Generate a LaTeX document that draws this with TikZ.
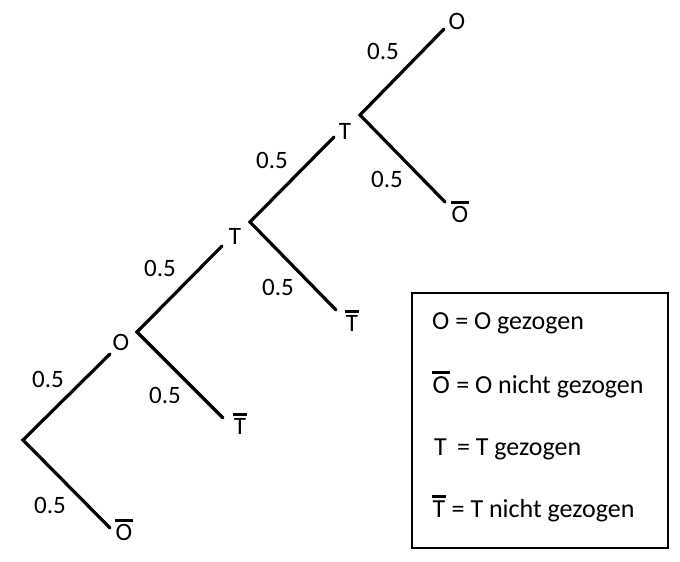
\documentclass[tikz,border=0pt]{standalone}
\usepackage{fontspec}
\setmainfont{Carlito}
\newcommand{\barred}[1]{\leavevmode\vbox{\hrule height 3pt\kern 2.4pt\hbox{\kern0.5pt#1\kern0.5pt}}}
\begin{document}
\begin{tikzpicture}[x=1pt,y=-1pt,
  branch/.style={line width=3.2pt,line cap=round},
  lbl/.style={font=\fontsize{25}{29}\selectfont,inner sep=0pt},
  prob/.style={font=\fontsize{25}{29}\selectfont,inner sep=0pt},
  leg/.style={font=\fontsize{26}{31}\selectfont,inner sep=0pt,anchor=base west}]
\useasboundingbox (0,0) rectangle (680,562);
% junctions / ends
\coordinate (r) at (23,440);
\coordinate (oj) at (137,332);
\coordinate (oe) at (110,354);
\coordinate (obe) at (110,528);
\coordinate (t1j) at (250,222);
\coordinate (t1e) at (222,246);
\coordinate (tb1e) at (223,418);
\coordinate (t2j) at (360,115);
\coordinate (t2e) at (334,137);
\coordinate (tb2e) at (336,310);
\coordinate (oe2) at (444,29);
\coordinate (obe2) at (445,202);
% branches
\draw[branch] (oe) -- (r) -- (obe);
\draw[branch] (t1e) -- (oj) -- (tb1e);
\draw[branch] (t2e) -- (t1j) -- (tb2e);
\draw[branch] (oe2) -- (t2j) -- (obe2);
% labels
\node[lbl] (lo) at (121,342) {O};
\node[lbl] (lob) at (124,530) {\barred{O}};
\node[lbl] (lt1) at (235,236) {T};
\node[lbl] (ltb1) at (240,424) {\barred{T}};
\node[lbl] (lt2) at (345,131) {T};
\node[lbl] (ltb2) at (352,321) {\barred{T}};
\node[lbl] (lo2) at (457,21) {O};
\node[lbl] (lob2) at (460,212) {\barred{O}};
% probabilities
\node[prob] (p1) at (48,379) {0.5};
\node[prob] (p2) at (50,505) {0.5};
\node[prob] (p3) at (160,268) {0.5};
\node[prob] (p4) at (165,395) {0.5};
\node[prob] (p5) at (272,160) {0.5};
\node[prob] (p6) at (278,287) {0.5};
\node[prob] (p7) at (383,51) {0.5};
\node[prob] (p8) at (387,179) {0.5};
% legend
\draw[line width=2.8pt] (412,293) rectangle (668,548);
\node[leg] (l1) at (432,329) {O = O gezogen};
\node[leg] (l2) at (432,393) {\barred{O} = O nicht gezogen};
\node[leg] (l3) at (434,455) {T\,\ = T gezogen};
\node[leg] (l4) at (432,517) {\barred{T} = T nicht gezogen};
\end{tikzpicture}
\end{document}
